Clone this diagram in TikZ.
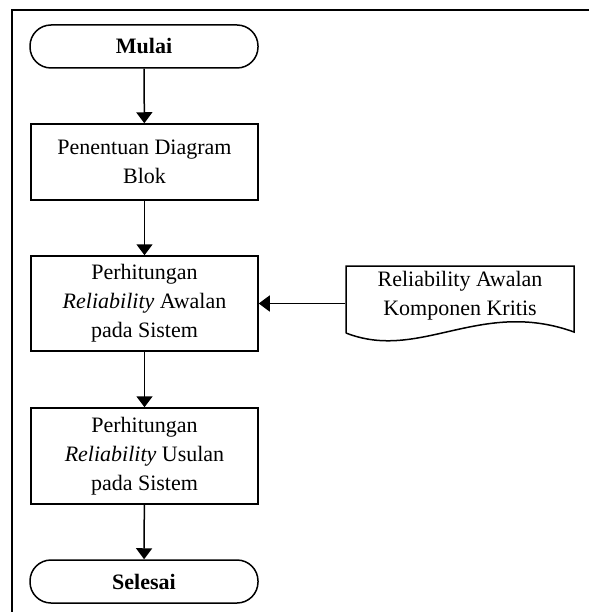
\documentclass[tikz,border=0pt]{standalone}
\usepackage{fontspec}
\setmainfont{Liberation Serif}
\usetikzlibrary{arrows.meta}
\usetikzlibrary{calc}

\tikzset{
  proses/.style={draw, rectangle, minimum width=227pt, align=center, inner sep=0pt},
  terminal/.style={draw, rectangle, rounded corners=21pt, minimum width=228pt, minimum height=43pt, font=\fontsize{22}{29}\selectfont\bfseries},
  panah/.style={-{Triangle[width=16pt,length=11pt]}},
}

\begin{document}
\begin{tikzpicture}[x=1pt, y=-1pt, line width=1.5pt, font=\fontsize{22}{29}\selectfont]
        \useasboundingbox (0,0) rectangle (589,612);
        % bingkai
        \draw (589,10) -- (12,10) -- (12,612);
        \node[terminal] (mulai) at (144,46.5) {Mulai};
        \node[proses, minimum height=76pt] (blok) at (144.5,162) {Penentuan Diagram\\Blok};
        \node[proses, minimum height=95pt] (awal) at (144.5,303.5) {Perhitungan\\\textit{Reliability} Awalan\\pada Sistem};
        \node[proses, minimum height=96pt] (usul) at (144.5,456) {Perhitungan\\\textit{Reliability} Usulan\\pada Sistem};
        \node[terminal] (selesai) at (144,581.5) {Selesai};
        % dokumen
        \node[minimum width=228pt, align=center, inner sep=0pt] (dok) at (460,296) {Reliability Awalan\\Komponen Kritis};
        \draw (346,333) -- (346,266) -- (574,266) -- (574,332)
              .. controls (480,298) and (420,362) .. (346,333);
        \draw[panah] (mulai) -- (blok);
        \draw[panah] (blok) -- (awal);
        \draw[panah] (awal) -- (usul);
        \draw[panah] (usul) -- (selesai);
        \draw[panah] (awal.east -| dok.west) -- (awal.east);
    \end{tikzpicture}
\end{document}
